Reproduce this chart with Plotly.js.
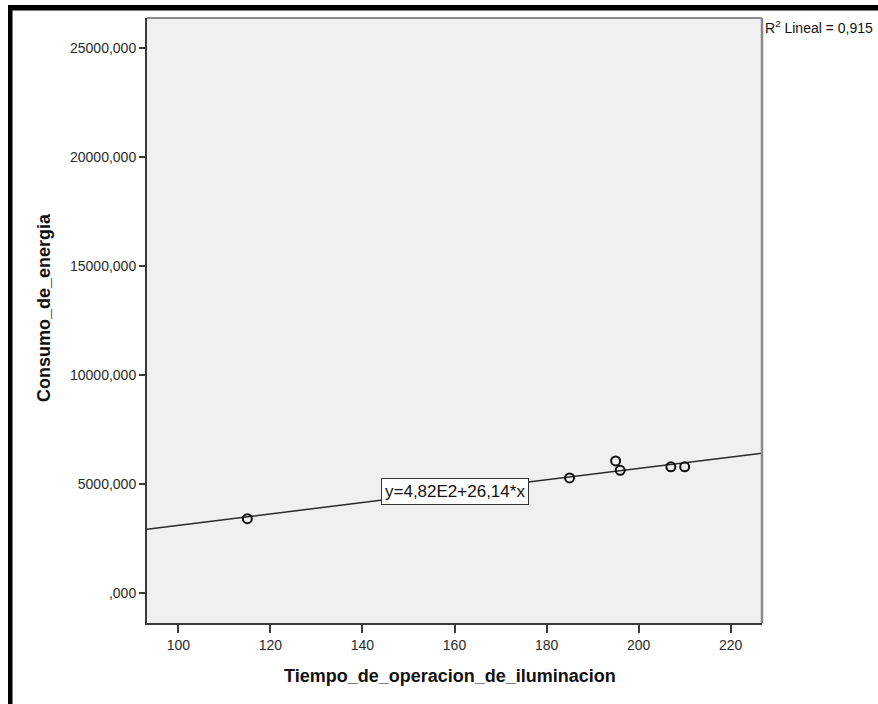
<!DOCTYPE html>
<html>
<head>
<meta charset="utf-8">
<script src="https://cdn.plot.ly/plotly-3.0.1.min.js"></script>
<style>
  html, body { margin: 0; padding: 0; background: #ffffff; }
  #chart { width: 878px; height: 704px; }
</style>
</head>
<body>
<div id="chart"></div>
<script>
// ---- data ----
const tiempo = [115, 185, 195, 196, 207, 210];
const consumo = [3400, 5270, 6050, 5620, 5780, 5780];
const regIntercept = 482;
const regSlope = 26.14;
const eqLabel = 'y=4,82E2+26,14*x';
const r2Label = 'R<sup>2</sup> Lineal = 0,915';
const xTickVals = [100, 120, 140, 160, 180, 200, 220];
const xTickText = ['100', '120', '140', '160', '180', '200', '220'];
const yTickVals = [0, 5000, 10000, 15000, 20000, 25000];
const yTickText = [',000', '5000,000', '10000,000', '15000,000', '20000,000', '25000,000'];
const xTitle = 'Tiempo_de_operacion_de_iluminacion';
const yTitle = 'Consumo_de_energia';
const xRange = [93.2, 226.8];
const yRange = [-1390, 26390];

// ---- layout geometry ----
const W = 878, H = 704;
const M = { l: 147, r: 116, t: 18, b: 81 };
const pw = W - M.l - M.r, ph = H - M.t - M.b;
const px = x => (x - M.l) / pw;        // pixel -> paper x
const py = y => (H - M.b - y) / ph;    // pixel -> paper y

const lineX = [xRange[0], xRange[1]];
const lineY = lineX.map(v => regIntercept + regSlope * v);
const eqX = (xRange[0] + xRange[1]) / 2;
const eqY = regIntercept + regSlope * eqX;

const font = 'Arial, "Liberation Sans", sans-serif';

const traces = [
  {
    type: 'scatter', mode: 'lines',
    x: lineX, y: lineY,
    line: { color: '#2a2a2a', width: 1.5 },
    hoverinfo: 'skip', showlegend: false
  },
  {
    type: 'scatter', mode: 'markers',
    x: tiempo, y: consumo,
    marker: { symbol: 'circle-open', size: 9, color: '#111', line: { width: 2, color: '#111' } },
    showlegend: false
  }
];

const layout = {
  width: W, height: H,
  margin: M,
  paper_bgcolor: '#ffffff',
  plot_bgcolor: '#f0f0f0',
  font: { family: font, size: 14, color: '#333' },
  showlegend: false,
  xaxis: {
    range: xRange, tickmode: 'array', tickvals: xTickVals, ticktext: xTickText,
    showgrid: false, zeroline: false,
    showline: true, linecolor: '#3a3a3a', linewidth: 2,
    ticks: 'outside', ticklen: 8, tickwidth: 2, tickcolor: '#3a3a3a',
    tickfont: { family: font, size: 14, color: '#2a2a2a' }
  },
  yaxis: {
    range: yRange, tickmode: 'array', tickvals: yTickVals, ticktext: yTickText,
    showgrid: false, zeroline: false,
    showline: true, linecolor: '#3a3a3a', linewidth: 2,
    ticks: 'outside', ticklen: 6, tickwidth: 2, tickcolor: '#3a3a3a',
    tickfont: { family: font, size: 14, color: '#2a2a2a' }
  },
  shapes: [
    // grey frame top and right
    { type: 'line', xref: 'paper', yref: 'paper', x0: 0, x1: 1, y0: 1, y1: 1, line: { color: '#8a8a8a', width: 2 } },
    { type: 'line', xref: 'paper', yref: 'paper', x0: 1, x1: 1, y0: 0, y1: 1, line: { color: '#8a8a8a', width: 2.5 } },
    // outer black border (top, left)
    { type: 'rect', xref: 'paper', yref: 'paper', x0: px(8), x1: px(W + 5), y0: py(10.5), y1: py(5), fillcolor: '#000', line: { width: 0 } },
    { type: 'rect', xref: 'paper', yref: 'paper', x0: px(8), x1: px(12.5), y0: py(H + 5), y1: py(5), fillcolor: '#000', line: { width: 0 } }
  ],
  annotations: [
    {
      x: eqX, y: eqY, xref: 'x', yref: 'y', text: eqLabel, showarrow: false,
      font: { family: font, size: 17, color: '#111' },
      bgcolor: '#ffffff', bordercolor: '#333', borderwidth: 1, borderpad: 3
    },
    {
      x: px(763), y: py(27), xref: 'paper', yref: 'paper', xanchor: 'left', yanchor: 'middle',
      text: r2Label, showarrow: false,
      font: { family: font, size: 14, color: '#111' }
    },
    {
      x: px(450), y: py(676), xref: 'paper', yref: 'paper', xanchor: 'center', yanchor: 'middle',
      text: '<b>' + xTitle + '</b>', showarrow: false,
      font: { family: font, size: 18, color: '#111' }
    },
    {
      x: px(44), y: py(308), xref: 'paper', yref: 'paper', xanchor: 'center', yanchor: 'middle',
      text: '<b>' + yTitle + '</b>', showarrow: false, textangle: -90,
      font: { family: font, size: 18, color: '#111' }
    }
  ]
};

Plotly.newPlot('chart', traces, layout, { displayModeBar: false, staticPlot: true });
</script>
</body>
</html>
